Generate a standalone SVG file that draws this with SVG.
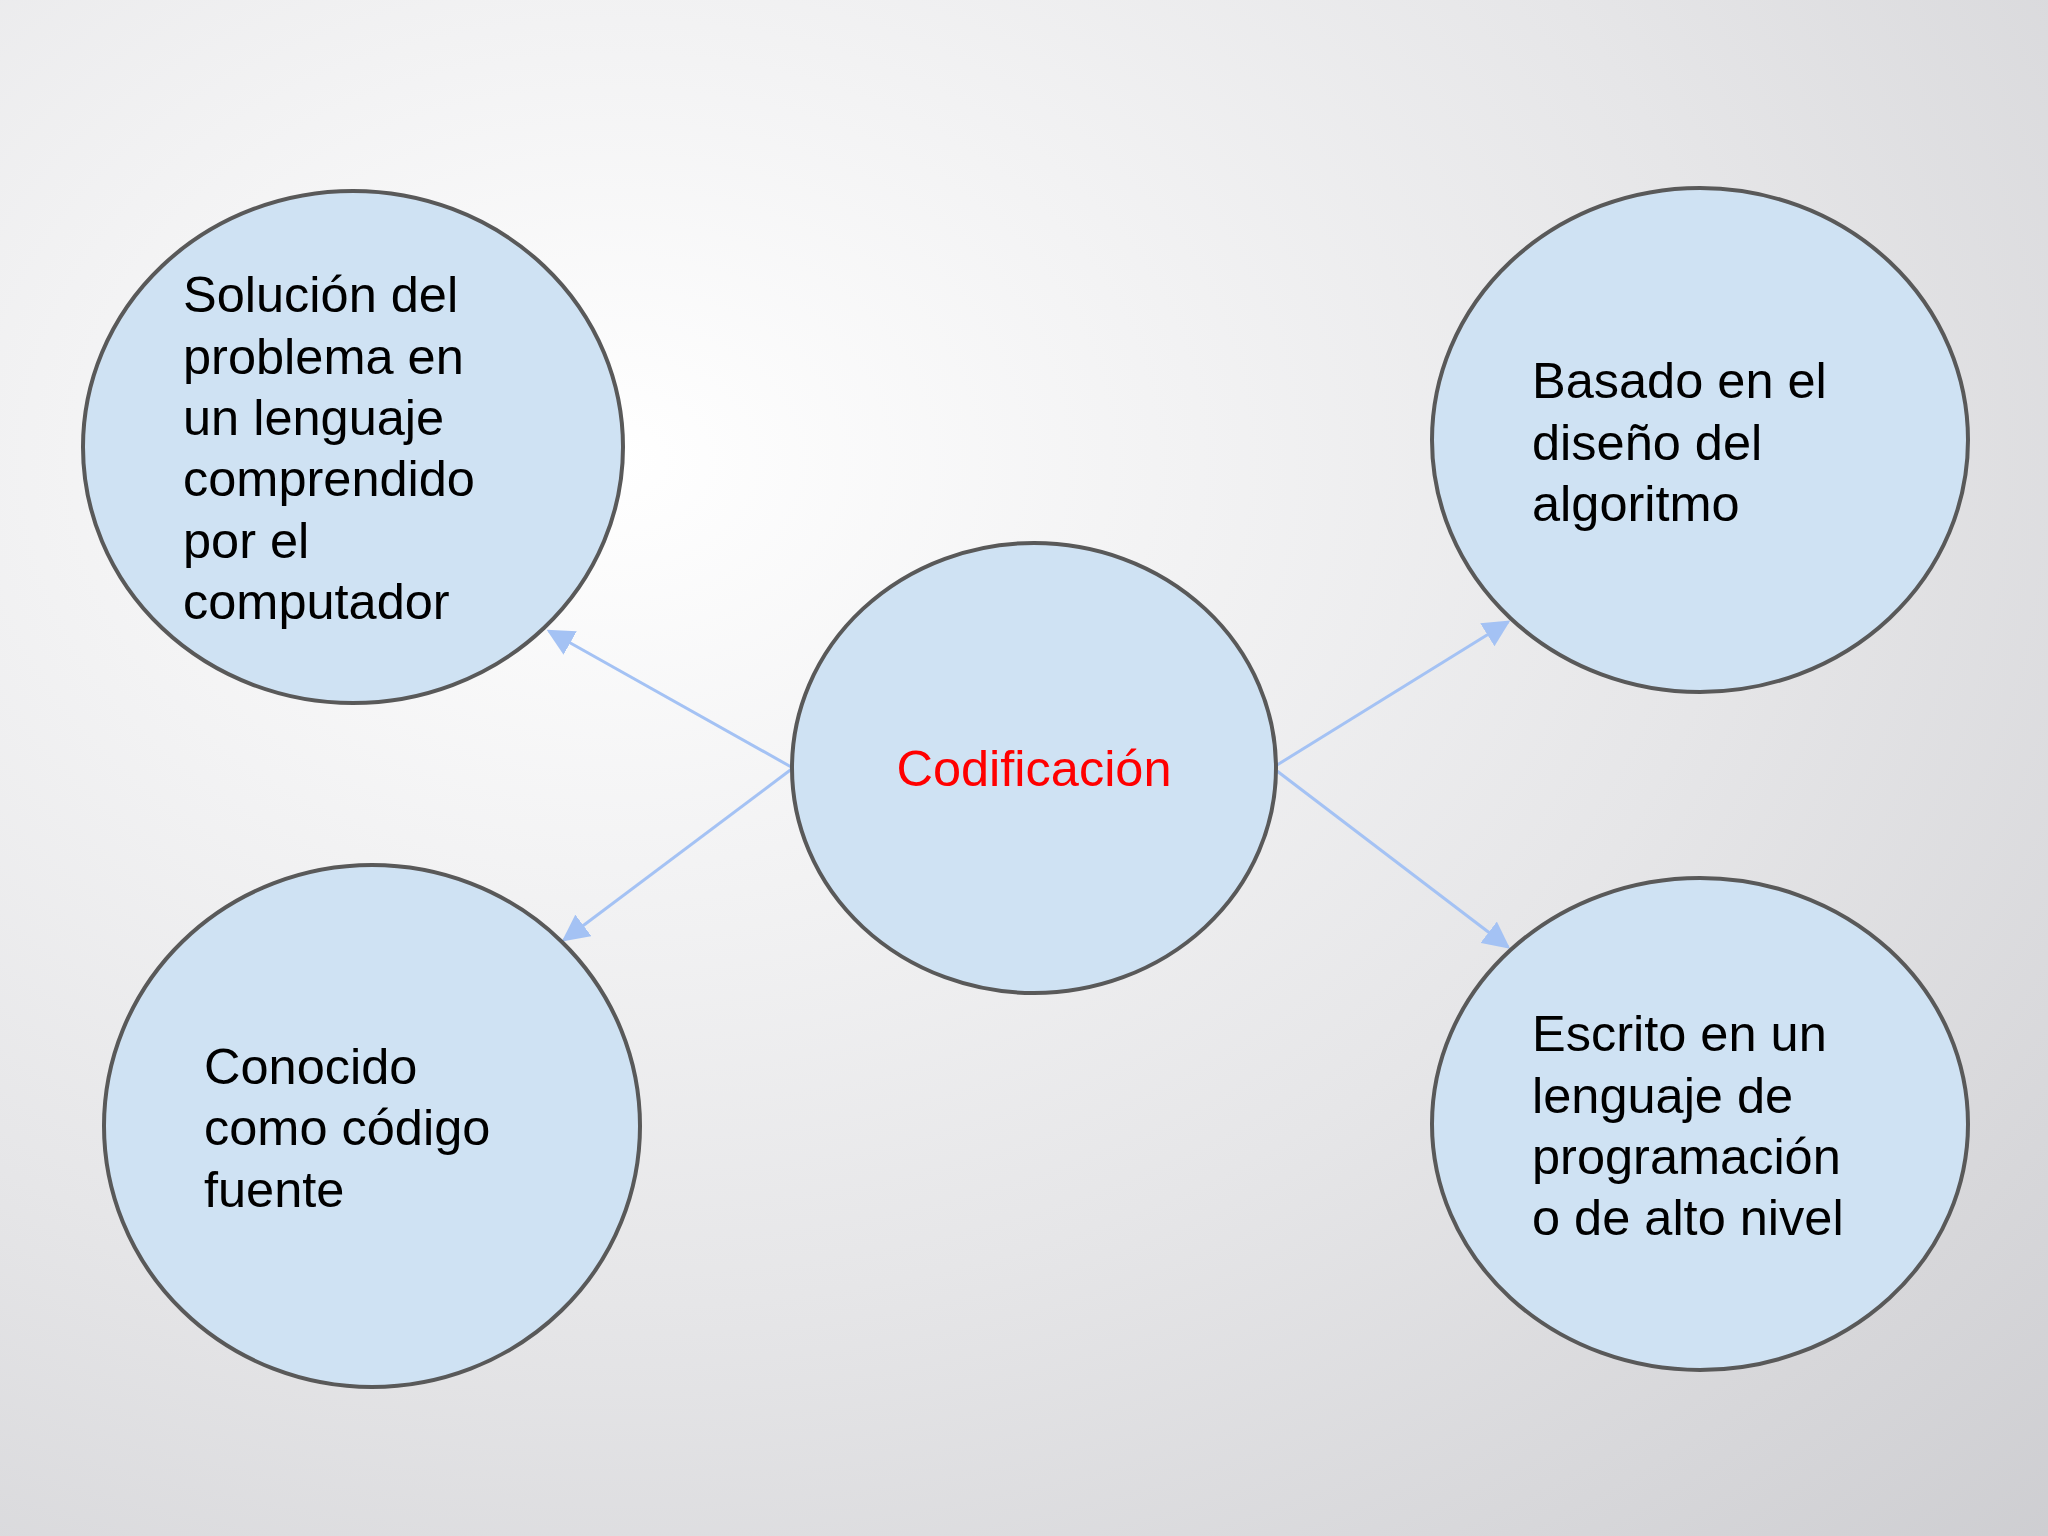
<svg xmlns="http://www.w3.org/2000/svg" width="2048" height="1536" viewBox="0 0 2048 1536">
<defs>
<radialGradient id="bg" cx="0.3" cy="0.3" r="1.1">
<stop offset="0" stop-color="#ffffff"/>
<stop offset="0.5" stop-color="#e6e6e8"/>
<stop offset="1" stop-color="#c8c8cc"/>
</radialGradient>
<marker id="ah" viewBox="0 0 10 10" refX="9" refY="5" markerWidth="9" markerHeight="9" orient="auto">
<path d="M0,0 L10,5 L0,10 z" fill="#a4c2f4"/>
</marker>
<style>
.n{fill:#cfe2f3;stroke:#595959;stroke-width:4}
.t{font-family:"Liberation Sans",Arial,sans-serif;font-size:50.5px;fill:#000}
.c{stroke:#a4c2f4;stroke-width:3;fill:none;marker-end:url(#ah)}
</style>
</defs>
<rect width="2048" height="1536" fill="url(#bg)"/>
<g id="connectors">
<line class="c" x1="793" y1="768" x2="549" y2="631"/>
<line class="c" x1="793" y1="768" x2="564" y2="940"/>
<line class="c" x1="1277" y1="765" x2="1508" y2="622"/>
<line class="c" x1="1277" y1="771" x2="1508" y2="947"/>
</g>
<g id="center">
<ellipse class="n" cx="1034" cy="768" rx="242" ry="225"/>
<text class="t" x="1034" y="786" text-anchor="middle" style="fill:#ff0000">Codificación</text>
</g>
<g id="tl">
<ellipse class="n" cx="353" cy="447" rx="270" ry="256"/>
<text class="t"><tspan x="183" y="312">Solución del</tspan><tspan x="183" y="374">problema en</tspan><tspan x="183" y="435">un lenguaje</tspan><tspan x="183" y="496">comprendido</tspan><tspan x="183" y="558">por el</tspan><tspan x="183" y="619">computador</tspan></text>
</g>
<g id="bl">
<ellipse class="n" cx="372" cy="1126" rx="268" ry="261"/>
<text class="t"><tspan x="204" y="1084">Conocido</tspan><tspan x="204" y="1145">como código</tspan><tspan x="204" y="1207">fuente</tspan></text>
</g>
<g id="tr">
<ellipse class="n" cx="1700" cy="440" rx="268" ry="252"/>
<text class="t"><tspan x="1532" y="398">Basado en el</tspan><tspan x="1532" y="460">diseño del</tspan><tspan x="1532" y="521">algoritmo</tspan></text>
</g>
<g id="br">
<ellipse class="n" cx="1700" cy="1124" rx="268" ry="246"/>
<text class="t"><tspan x="1532" y="1051">Escrito en un</tspan><tspan x="1532" y="1113">lenguaje de</tspan><tspan x="1532" y="1174">programación</tspan><tspan x="1532" y="1235">o de alto nivel</tspan></text>
</g>
</svg>
